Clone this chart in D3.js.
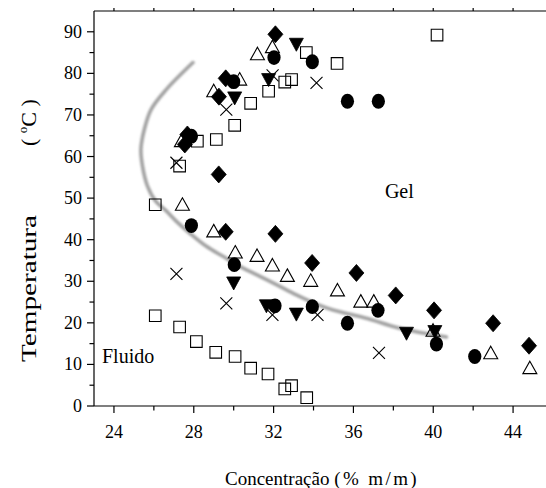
<!DOCTYPE html>
<html lang="pt">
<head>
    <meta charset="UTF-8">
    <title>Diagrama de fases</title>
    <script src="https://d3js.org/d3.v7.min.js"></script>
    <style>
        body { margin: 0; background: #fff; }
    </style>
</head>
<body>
    <svg width="546" height="488"></svg>
    <script>
        // data: [concentration % m/m, temperature °C]
        const squares = [[26.07, 48.4], [27.29, 57.7], [28.18, 63.7], [29.13, 64.1], [30.05, 67.5],
            [30.85, 72.8], [31.75, 75.7], [32.56, 77.9], [32.9, 78.5], [33.64, 85], [35.18, 82.4],
            [40.19, 89.2], [26.07, 21.7], [27.29, 19.0], [28.13, 15.5], [29.1, 12.9], [30.07, 11.9],
            [30.85, 9.1], [31.72, 7.7], [32.56, 4.1], [32.9, 4.9], [33.66, 2.0]];
        const triangles = [[27.38, 63.7], [27.43, 48.4], [29.0, 75.7], [30.3, 78.5], [31.19, 84.6],
            [31.94, 86.3], [29.0, 42], [30.08, 36.9], [31.17, 36.1], [31.94, 33.8], [32.69, 31.3],
            [33.86, 30.1], [35.2, 27.8], [36.37, 25.1], [37.02, 25.1], [39.99, 18.1], [42.88, 12.7],
            [44.84, 9.1]];
        const crosses = [[27.13, 58.5], [29.63, 71.3], [31.95, 79.5], [34.15, 77.7], [27.13, 31.8],
            [29.63, 24.7], [31.94, 21.9], [34.2, 21.9], [37.28, 12.8]];
        const circles = [[27.88, 64.9], [30.0, 78], [32.02, 83.8], [33.94, 82.8], [35.7, 73.3],
            [37.25, 73.3], [27.88, 43.4], [30.03, 34], [32.07, 24.1], [33.94, 23.9], [35.7, 19.9],
            [37.23, 23.0], [40.16, 14.9], [42.08, 11.9]];
        const invTriangles = [[33.14, 87], [31.75, 78.5], [30.05, 74.1], [30.0, 29.6], [31.64, 24.1],
            [33.14, 22.1], [38.66, 17.5], [40.08, 17.9]];
        const diamonds = [[32.09, 89.4], [29.6, 78.8], [29.26, 74.4], [27.68, 65.3], [27.55, 62.9],
            [29.25, 55.7], [29.6, 41.9], [32.09, 41.4], [33.93, 34.4], [36.15, 32.0], [38.12, 26.6],
            [40.04, 23.0], [43.0, 19.9], [44.8, 14.5]];
        // gray boundary curve
        const boundary = [[27.96, 82.6], [26.62, 76.1], [25.86, 71.3], [25.52, 66.5], [25.35, 61.7],
            [25.43, 57.7], [25.68, 52.9], [26.1, 49.2], [26.6, 47], [27.13, 44.4], [27.79, 41.6],
            [28.63, 38.4], [29.46, 36.0], [30.3, 33.6], [31.14, 31.6], [32.14, 29.2], [33.14, 26.7],
            [34.15, 24.5], [34.98, 23.1], [36.65, 21.1], [38.32, 18.7], [40.66, 16.6]];

        const xMajor = [24, 28, 32, 36, 40, 44];
        const xMinor = [24, 26, 28, 30, 32, 34, 36, 38, 40, 42, 44];
        const yMajor = [0, 10, 20, 30, 40, 50, 60, 70, 80, 90];
        const yMinor = [0, 5, 10, 15, 20, 25, 30, 35, 40, 45, 50, 55, 60, 65, 70, 75, 80, 85, 90];

        const font = "'Liberation Serif', 'Times New Roman', serif";
        const svg = d3.select("svg").attr("font-family", font);
        const x = d3.scaleLinear().domain([23, 45.7]).range([94, 547]);
        const y = d3.scaleLinear().domain([0, 95]).range([406, 11]);

        const defs = svg.append("defs");
        defs.append("filter").attr("id", "soft")
            .attr("x", "-10%").attr("y", "-10%").attr("width", "120%").attr("height", "120%")
            .append("feGaussianBlur").attr("stdDeviation", 0.9);

        // boundary
        svg.append("path")
            .datum(boundary)
            .attr("d", d3.line().x(d => x(d[0])).y(d => y(d[1])).curve(d3.curveCatmullRom))
            .attr("fill", "none")
            .attr("stroke", "#a2a2a2")
            .attr("stroke-width", 3.6)
            .attr("stroke-linecap", "round")
            .attr("filter", "url(#soft)");

        // axes
        const axes = svg.append("g").attr("stroke", "#000").attr("stroke-width", 1.2);
        axes.append("line").attr("x1", x(23)).attr("x2", 546).attr("y1", y(0)).attr("y2", y(0));
        axes.append("line").attr("x1", x(23)).attr("x2", 546).attr("y1", y(95)).attr("y2", y(95));
        axes.append("line").attr("x1", x(23)).attr("x2", x(23)).attr("y1", y(0)).attr("y2", y(95));

        axes.selectAll(".xt").data(xMinor).join("line")
            .attr("x1", d => x(d)).attr("x2", d => x(d))
            .attr("y1", y(0)).attr("y2", d => y(0) + (xMajor.includes(d) ? 7 : 4.5));
        axes.selectAll(".xtt").data(xMinor).join("line")
            .attr("x1", d => x(d)).attr("x2", d => x(d))
            .attr("y1", y(95)).attr("y2", y(95) - 3);
        axes.selectAll(".yt").data(yMinor).join("line")
            .attr("y1", d => y(d)).attr("y2", d => y(d))
            .attr("x1", x(23)).attr("x2", d => x(23) - (yMajor.includes(d) ? 7 : 4.5));

        svg.append("g").selectAll("text").data(xMajor).join("text")
            .attr("x", d => x(d)).attr("y", y(0) + 32)
            .attr("text-anchor", "middle").attr("font-size", 18)
            .text(d => d);
        svg.append("g").selectAll("text").data(yMajor).join("text")
            .attr("x", x(23) - 12).attr("y", d => y(d) + 6)
            .attr("text-anchor", "end").attr("font-size", 18)
            .text(d => d);

        const xt = svg.append("text").attr("x", 225).attr("y", 485)
            .attr("font-size", 19).attr("xml:space", "preserve");
        xt.append("tspan").text("Concentração ");
        xt.append("tspan").attr("letter-spacing", 2.4).text("(% m/m)");

        svg.append("text").attr("transform", "translate(36,362) rotate(-90)")
            .attr("font-size", 22)
            .attr("textLength", 147).attr("lengthAdjust", "spacingAndGlyphs")
            .text("Temperatura");
        const unit = svg.append("text").attr("transform", "translate(36,146) rotate(-90)")
            .attr("font-size", 22)
            .attr("xml:space", "preserve");
        unit.append("tspan").text("( ");
        unit.append("tspan").attr("font-size", 13).attr("dy", -9).text("o");
        unit.append("tspan").attr("dy", 9).text("C )");

        svg.append("text").attr("x", x(38.3)).attr("y", y(50.1))
            .attr("text-anchor", "middle").attr("font-size", 20).text("Gel");
        svg.append("text").attr("x", x(23.4)).attr("y", y(10.3))
            .attr("font-size", 20).text("Fluido");

        // markers
        const shapes = {
            square: "M-5.8,-5.8H5.8V5.8H-5.8Z",
            triangle: "M0,-7L7,5.5H-7Z",
            invTriangle: "M-7,-6H7L0,7Z",
            diamond: "M0,-8.5L7.5,0L0,8.5L-7.5,0Z",
            cross: "M-6,-6L6,6M6,-6L-6,6"
        };
        const g = svg.append("g");
        function draw(data, shape, filled) {
            g.append("g").selectAll("path").data(data).join("path")
                .attr("transform", d => `translate(${x(d[0])},${y(d[1])})`)
                .attr("d", shapes[shape])
                .attr("fill", filled ? "#000" : "none")
                .attr("stroke", "#000")
                .attr("stroke-width", filled ? 0.8 : 1.1);
        }
        draw(squares, "square", false);
        draw(triangles, "triangle", false);
        draw(crosses, "cross", false);
        g.append("g").selectAll("ellipse").data(circles).join("ellipse")
            .attr("cx", d => x(d[0])).attr("cy", d => y(d[1]))
            .attr("rx", 6.6).attr("ry", 7.4).attr("fill", "#000");
        draw(invTriangles, "invTriangle", true);
        draw(diamonds, "diamond", true);
    </script>
</body>
</html>
